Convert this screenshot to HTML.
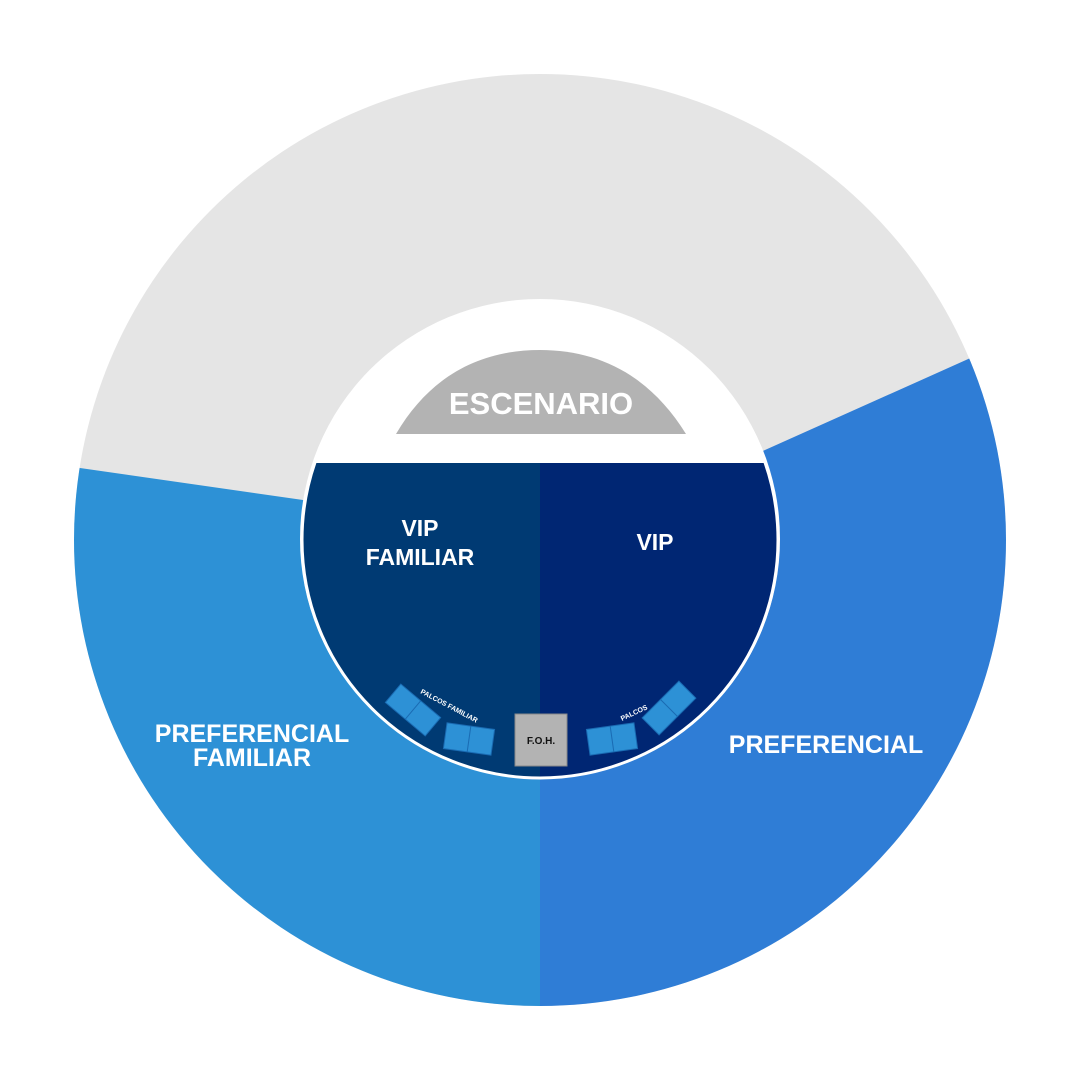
<!DOCTYPE html>
<html><head><meta charset="utf-8"><style>
html,body{margin:0;padding:0;background:#fff;}
svg{display:block;}
text{font-family:"Liberation Sans",Arial,sans-serif;font-weight:bold;fill:#fff;}
</style></head><body>
<svg width="1080" height="1080" viewBox="0 0 1080 1080">
<defs>
<clipPath id="outer"><circle cx="540" cy="540" r="466"/></clipPath>
<clipPath id="inner"><path d="M0 463 H1080 V1080 H0 Z"/></clipPath>
<clipPath id="c2"><circle cx="540" cy="540" r="238"/></clipPath>
</defs>
<g clip-path="url(#outer)">
<rect x="0" y="0" width="1080" height="1080" fill="#e5e5e5"/>
<polygon points="0,456 80,468 303,500 540,540 540,1080 0,1080" fill="#2d91d6"/>
<polygon points="540,551 765,450 1080,309 1080,1080 540,1080" fill="#2f7dd6"/>
</g>
<circle cx="540" cy="539" r="240" fill="#fff"/>
<path d="M396 434 C430 376 480 350 540 350 C600 350 650 376 686 434 Z" fill="#b3b3b3"/>
<text x="541" y="414" font-size="31" text-anchor="middle">ESCENARIO</text>
<g clip-path="url(#inner)">
<circle cx="540" cy="540" r="238" fill="#003a73"/>
<path d="M540 300 H800 V800 H540 Z" fill="#002673" clip-path="url(#c2)"/>
</g>
<circle cx="540" cy="540" r="238" fill="none" stroke="#fff" stroke-width="3" clip-path="url(#inner)"/>
<text x="420" y="536" font-size="23" text-anchor="middle">VIP</text>
<text x="420" y="565" font-size="23" text-anchor="middle">FAMILIAR</text>
<text x="655" y="550" font-size="23" text-anchor="middle">VIP</text>
<text x="252" y="742" font-size="25" text-anchor="middle">PREFERENCIAL</text>
<text x="252" y="766" font-size="25" text-anchor="middle">FAMILIAR</text>
<text x="826" y="753" font-size="25" text-anchor="middle">PREFERENCIAL</text>
<g fill="#2d91d6" stroke="#1a6bb3" stroke-width="1">
<g transform="translate(413,710) rotate(40)"><rect x="-26" y="-12" width="52" height="24"/><line x1="0" y1="-12" x2="0" y2="12"/></g>
<g transform="translate(469,739) rotate(8)"><rect x="-24" y="-13" width="48" height="26"/><line x1="0" y1="-13" x2="0" y2="13"/></g>
<g transform="translate(612,739) rotate(-8)"><rect x="-24" y="-13" width="48" height="26"/><line x1="0" y1="-13" x2="0" y2="13"/></g>
<g transform="translate(669,708) rotate(-45)"><rect x="-26" y="-12" width="52" height="24"/><line x1="0" y1="-12" x2="0" y2="12"/></g>
</g>
<text x="0" y="0" font-size="7" transform="translate(420,693) rotate(28)">PALCOS FAMILIAR</text>
<text x="0" y="0" font-size="7" transform="translate(622,721) rotate(-25)">PALCOS</text>
<rect x="515" y="714" width="52" height="52" fill="#b3b3b3" stroke="#888" stroke-width="1"/>
<text x="541" y="744" font-size="10" text-anchor="middle" style="fill:#111">F.O.H.</text>
</svg>
</body></html>
